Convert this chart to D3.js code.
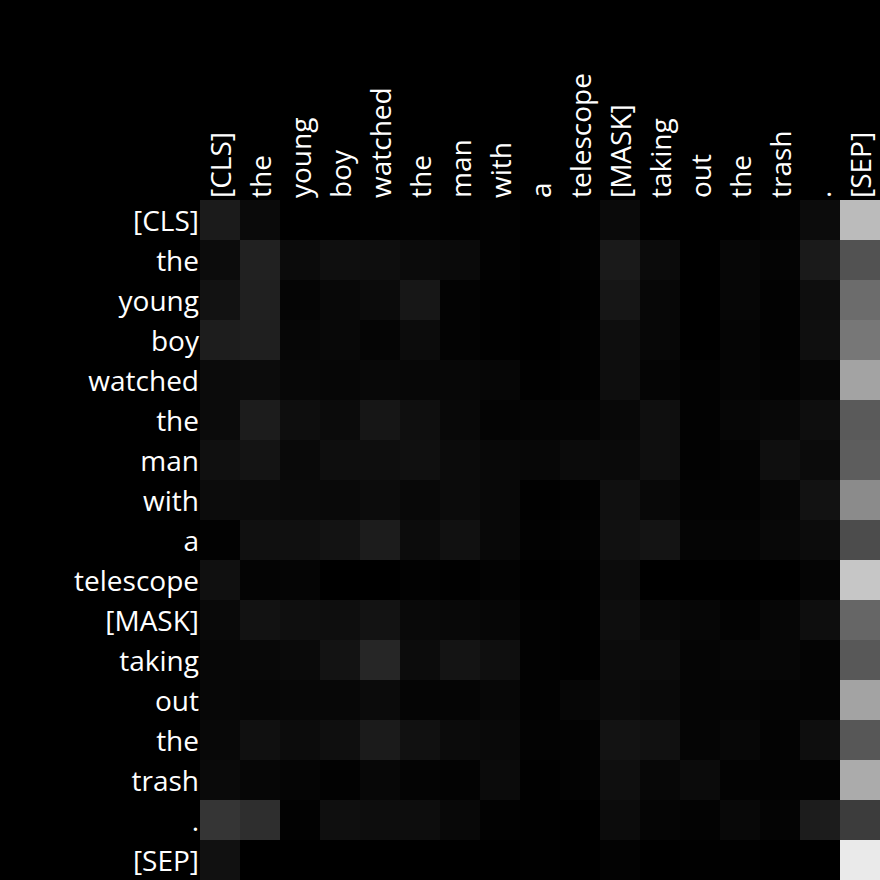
<!DOCTYPE html>
<html>
<head>
<meta charset="utf-8">
<script src="https://cdn.jsdelivr.net/npm/d3@7"></script>
<style>
  html, body { margin: 0; padding: 0; background: #000; }
  svg { display: block; }
</style>
</head>
<body>
<script>
// Tokens (rows = queries, columns = keys)
const tokens = ["[CLS]", "the", "young", "boy", "watched", "the", "man", "with", "a",
  "telescope", "[MASK]", "taking", "out", "the", "trash", ".", "[SEP]"];

// Attention weights (0..1), one array per row
const rowCLS      = [0.106,0.039,0.000,0.000,0.004,0.008,0.004,0.008,0.000,0.004,0.039,0.000,0.000,0.000,0.008,0.047,0.733];
const rowThe1     = [0.047,0.129,0.043,0.059,0.055,0.043,0.039,0.008,0.000,0.008,0.102,0.043,0.000,0.024,0.016,0.102,0.322];
const rowYoung    = [0.071,0.125,0.020,0.031,0.043,0.090,0.012,0.004,0.000,0.004,0.086,0.027,0.000,0.024,0.008,0.055,0.424];
const rowBoy      = [0.114,0.122,0.024,0.031,0.020,0.047,0.012,0.004,0.000,0.008,0.055,0.027,0.000,0.020,0.008,0.059,0.467];
const rowWatched  = [0.043,0.047,0.027,0.024,0.031,0.027,0.027,0.024,0.004,0.008,0.055,0.020,0.008,0.020,0.012,0.024,0.639];
const rowThe2     = [0.043,0.110,0.055,0.043,0.086,0.059,0.031,0.016,0.020,0.020,0.031,0.059,0.008,0.024,0.031,0.055,0.353];
const rowMan      = [0.063,0.078,0.035,0.055,0.055,0.063,0.043,0.031,0.027,0.043,0.039,0.059,0.008,0.016,0.059,0.043,0.365];
const rowWith     = [0.047,0.043,0.039,0.035,0.047,0.031,0.043,0.031,0.004,0.008,0.063,0.031,0.012,0.012,0.024,0.071,0.545];
const rowA        = [0.008,0.063,0.063,0.075,0.110,0.047,0.067,0.031,0.008,0.012,0.067,0.078,0.020,0.020,0.031,0.047,0.298];
const rowTelescope= [0.063,0.016,0.020,0.000,0.000,0.008,0.004,0.012,0.000,0.004,0.047,0.000,0.000,0.000,0.000,0.020,0.776];
const rowMask     = [0.035,0.071,0.059,0.055,0.075,0.035,0.031,0.024,0.008,0.004,0.055,0.031,0.024,0.012,0.024,0.055,0.400];
const rowTaking   = [0.027,0.031,0.039,0.075,0.149,0.047,0.078,0.059,0.008,0.004,0.047,0.047,0.020,0.024,0.024,0.016,0.345];
const rowOut      = [0.027,0.024,0.027,0.027,0.043,0.020,0.020,0.027,0.008,0.024,0.043,0.035,0.020,0.020,0.016,0.016,0.639];
const rowThe3     = [0.031,0.063,0.047,0.059,0.106,0.067,0.043,0.035,0.012,0.012,0.075,0.067,0.020,0.027,0.012,0.055,0.341];
const rowTrash    = [0.039,0.024,0.020,0.008,0.027,0.016,0.012,0.043,0.004,0.012,0.059,0.027,0.043,0.012,0.012,0.012,0.671];
const rowPeriod   = [0.208,0.180,0.008,0.059,0.051,0.051,0.031,0.008,0.004,0.000,0.047,0.020,0.012,0.031,0.016,0.110,0.235];
const rowSEP      = [0.067,0.000,0.000,0.000,0.000,0.000,0.000,0.000,0.004,0.000,0.012,0.000,0.004,0.004,0.000,0.000,0.918];

const attention = [rowCLS, rowThe1, rowYoung, rowBoy, rowWatched, rowThe2, rowMan, rowWith, rowA,
  rowTelescope, rowMask, rowTaking, rowOut, rowThe3, rowTrash, rowPeriod, rowSEP];

const W = 880, H = 880;
const margin = { top: 200, left: 200, right: 0, bottom: 0 };
const idx = d3.range(tokens.length);

const svg = d3.select("body").append("svg").attr("width", W).attr("height", H);
svg.append("rect").attr("width", W).attr("height", H).attr("fill", "#000");

const x = d3.scaleBand().domain(idx).range([margin.left, W - margin.right]).padding(0);
const y = d3.scaleBand().domain(idx).range([margin.top, H - margin.bottom]).padding(0);
const color = d3.scaleLinear().domain([0, 1]).range(["#000000", "#ffffff"]);

const cells = [];
attention.forEach((row, i) => row.forEach((v, j) => cells.push({ i, j, v })));

svg.append("g").selectAll("rect").data(cells).join("rect")
  .attr("x", d => x(d.j))
  .attr("y", d => y(d.i))
  .attr("width", x.bandwidth())
  .attr("height", y.bandwidth())
  .attr("fill", d => color(d.v))
  .attr("shape-rendering", "crispEdges");

const font = "'Open Sans', 'Noto Sans', sans-serif";
const fontSize = "28px";

// Row labels (left)
svg.append("g").selectAll("text").data(idx).join("text")
  .attr("x", margin.left - 1)
  .attr("y", i => y(i) + y.bandwidth() / 2)
  .attr("text-anchor", "end")
  .attr("dominant-baseline", "central")
  .attr("fill", "#fff")
  .style("font-family", font)
  .style("font-size", fontSize)
  .text(i => tokens[i]);

// Column labels (top, rotated)
svg.append("g").selectAll("text").data(idx).join("text")
  .attr("transform", i => `translate(${x(i) + x.bandwidth() / 2},${margin.top - 2}) rotate(-90)`)
  .attr("text-anchor", "start")
  .attr("dominant-baseline", "central")
  .attr("fill", "#fff")
  .style("font-family", font)
  .style("font-size", fontSize)
  .text(i => tokens[i]);
</script>
</body>
</html>
